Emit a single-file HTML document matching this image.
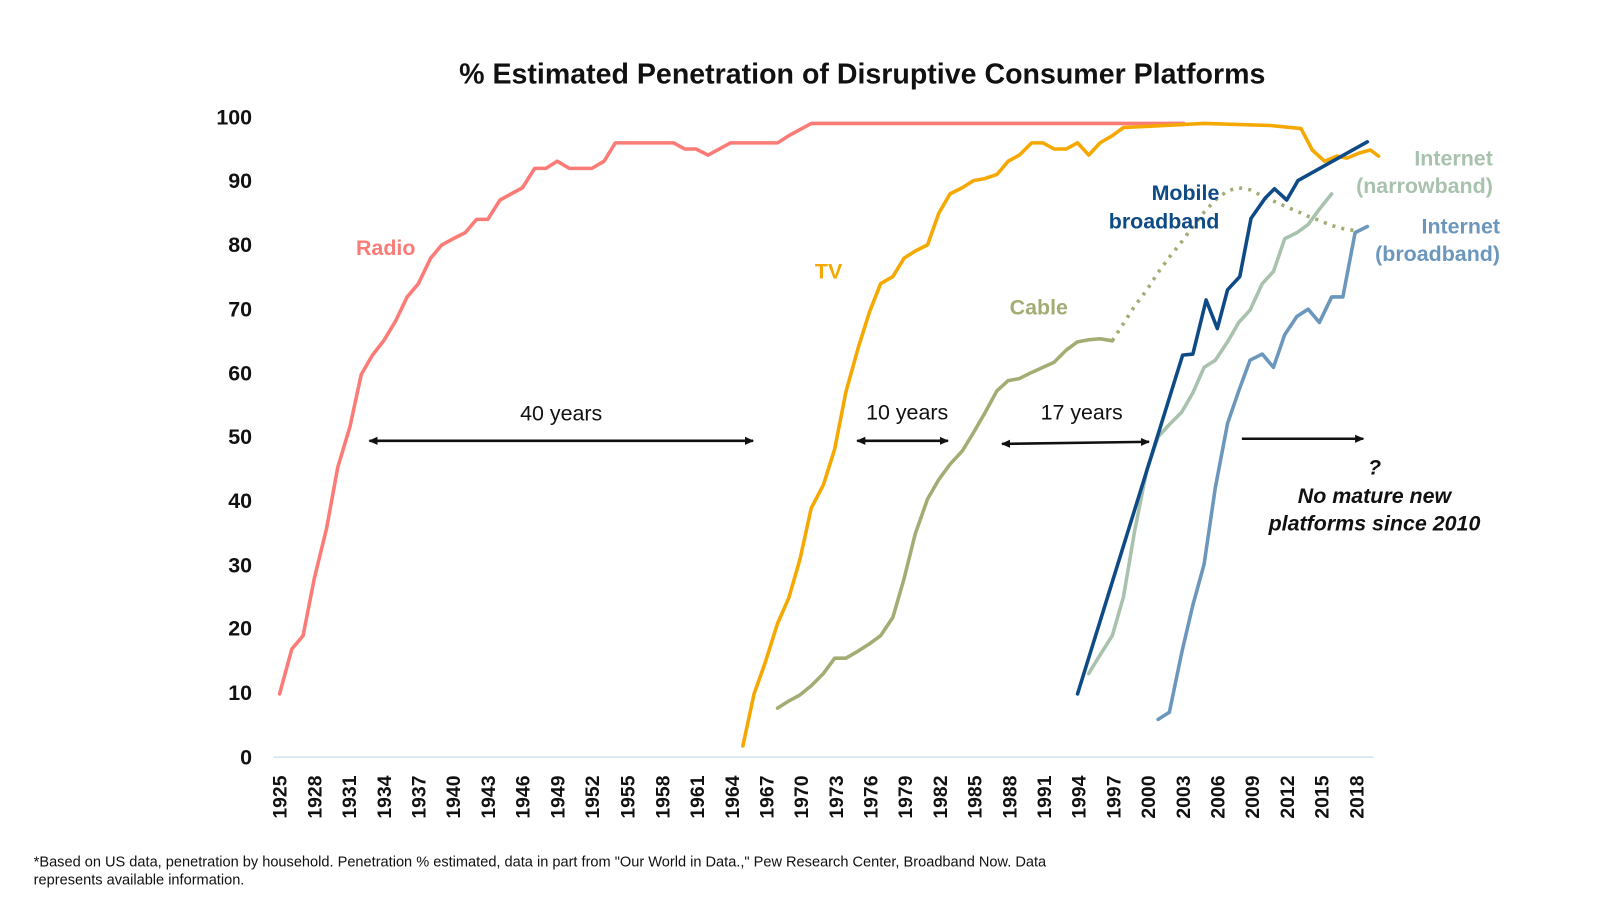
<!DOCTYPE html>
<html><head><meta charset="utf-8"><style>
html,body{margin:0;padding:0;background:#fff;}
svg{display:block;font-family:"Liberation Sans",sans-serif;}
</style></head><body>
<svg width="1600" height="900" viewBox="0 0 1568 882" xmlns="http://www.w3.org/2000/svg">
<defs>
<marker id="ah" markerWidth="10" markerHeight="10" refX="8" refY="5" orient="auto-start-reverse" markerUnits="userSpaceOnUse"><path d="M0,1 L9,5 L0,9 Z" fill="#111"/></marker>
</defs>
<text x="845" y="82" text-anchor="middle" font-size="28" font-weight="bold" fill="#111">% Estimated Penetration of Disruptive Consumer Platforms</text>
<g font-size="21" font-weight="bold" fill="#111" text-anchor="end">
<text x="247" y="749">0</text><text x="247" y="686">10</text><text x="247" y="623">20</text><text x="247" y="561">30</text><text x="247" y="498">40</text><text x="247" y="435">50</text><text x="247" y="373">60</text><text x="247" y="310">70</text><text x="247" y="247">80</text><text x="247" y="184">90</text><text x="247" y="122">100</text>
</g>
<line x1="268" y1="742" x2="1346" y2="742" stroke="#cfe3f0" stroke-width="1.5"/>
<g font-size="19" font-weight="bold" fill="#111" text-anchor="end">
<text transform="translate(281,760) rotate(-90)">1925</text>
<text transform="translate(315,760) rotate(-90)">1928</text>
<text transform="translate(349,760) rotate(-90)">1931</text>
<text transform="translate(383,760) rotate(-90)">1934</text>
<text transform="translate(417,760) rotate(-90)">1937</text>
<text transform="translate(451,760) rotate(-90)">1940</text>
<text transform="translate(485,760) rotate(-90)">1943</text>
<text transform="translate(519,760) rotate(-90)">1946</text>
<text transform="translate(553,760) rotate(-90)">1949</text>
<text transform="translate(587,760) rotate(-90)">1952</text>
<text transform="translate(622,760) rotate(-90)">1955</text>
<text transform="translate(656,760) rotate(-90)">1958</text>
<text transform="translate(690,760) rotate(-90)">1961</text>
<text transform="translate(724,760) rotate(-90)">1964</text>
<text transform="translate(758,760) rotate(-90)">1967</text>
<text transform="translate(792,760) rotate(-90)">1970</text>
<text transform="translate(826,760) rotate(-90)">1973</text>
<text transform="translate(860,760) rotate(-90)">1976</text>
<text transform="translate(894,760) rotate(-90)">1979</text>
<text transform="translate(928,760) rotate(-90)">1982</text>
<text transform="translate(962,760) rotate(-90)">1985</text>
<text transform="translate(996,760) rotate(-90)">1988</text>
<text transform="translate(1030,760) rotate(-90)">1991</text>
<text transform="translate(1064,760) rotate(-90)">1994</text>
<text transform="translate(1098,760) rotate(-90)">1997</text>
<text transform="translate(1132,760) rotate(-90)">2000</text>
<text transform="translate(1166,760) rotate(-90)">2003</text>
<text transform="translate(1200,760) rotate(-90)">2006</text>
<text transform="translate(1234,760) rotate(-90)">2009</text>
<text transform="translate(1268,760) rotate(-90)">2012</text>
<text transform="translate(1302,760) rotate(-90)">2015</text>
<text transform="translate(1336,760) rotate(-90)">2018</text>
</g>
<g fill="none" stroke-width="3.5" stroke-linejoin="round" stroke-linecap="round">
<polyline stroke="#fb7b77" points="274,680 286,636 297,623 308,567 320,518 331,458 343,418 354,367 365,348 376,334 388,314 399,291 410,278 422,253 433,240 444,234 456,228 467,215 478,215 490,196 501,190 512,184 524,165 535,165 546,158 558,165 569,165 580,165 592,158 603,140 614,140 626,140 637,140 648,140 660,140 671,146 682,146 694,152 705,146 716,140 728,140 739,140 750,140 762,140 773,133 784,127 795,121 1160,121"/>
<polyline stroke="#f5a800" points="728,731 739,680 750,649 762,611 773,586 784,548 795,498 807,475 818,440 829,384 841,341 852,306 863,278 875,271 886,253 897,246 909,240 920,209 931,190 943,184 954,177 965,175 977,171 988,158 999,152 1011,140 1022,140 1033,146 1045,146 1056,140 1067,152 1078,140 1090,133 1101,125 1180,121 1245,123 1275,126 1286,147 1298,158 1310,153 1320,155 1332,150 1343,147 1351,153"/>
<polyline stroke="#a3ad73" points="762,694 773,687 784,681 795,672 807,660 818,645 829,645 841,638 852,631 863,623 875,605 886,567 897,523 909,489 920,470 931,455 943,442 954,424 965,405 977,383 988,373 999,371 1011,365 1022,360 1033,355 1045,343 1056,335 1067,333 1078,332 1090,334"/>
<polyline stroke="#a3ad73" stroke-dasharray="3 6" stroke-linecap="butt" points="1090,334 1101,317 1112,300 1124,284 1135,267 1146,252 1158,237 1169,222 1180,208 1191,196 1203,187 1214,184 1225,186 1237,192 1248,197 1259,202 1271,207 1282,212 1293,216 1305,221 1316,224 1328,226"/>
<polyline stroke="#a8c2ad" points="1067,660 1078,642 1090,623 1101,585 1112,520 1124,460 1135,428 1146,416 1158,404 1169,385 1180,360 1191,353 1203,335 1214,316 1225,304 1237,278 1248,266 1259,234 1271,228 1282,220 1293,205 1305,190"/>
<polyline stroke="#6c97bd" points="1135,705 1146,698 1158,640 1169,593 1180,553 1191,478 1203,415 1214,383 1225,353 1237,347 1248,360 1259,328 1271,310 1282,303 1293,316 1305,291 1316,291 1328,228 1340,222"/>
<polyline stroke="#0e4b86" points="1056,680 1159,348 1169,347 1182,294 1193,322 1203,284 1215,271 1226,214 1240,194 1249,185 1261,196 1272,177 1340,139"/>
</g>
<g font-size="21" font-weight="bold">
<text x="378" y="250" text-anchor="middle" fill="#fb7b77">Radio</text>
<text x="812" y="273" text-anchor="middle" fill="#f5a800">TV</text>
<text x="1018" y="308" text-anchor="middle" fill="#a3ad73">Cable</text>
<text x="1195" y="196" text-anchor="end" fill="#0e4b86">Mobile</text>
<text x="1195" y="224" text-anchor="end" fill="#0e4b86">broadband</text>
<text x="1463" y="162" text-anchor="end" fill="#a8c2ad">Internet</text>
<text x="1463" y="189" text-anchor="end" fill="#a8c2ad">(narrowband)</text>
<text x="1470" y="229" text-anchor="end" fill="#6c97bd">Internet</text>
<text x="1470" y="256" text-anchor="end" fill="#6c97bd">(broadband)</text>
</g>
<g stroke="#111" stroke-width="2.5" fill="none">
<line x1="362" y1="432" x2="738" y2="432" marker-start="url(#ah)" marker-end="url(#ah)"/>
<line x1="840" y1="432" x2="929" y2="432" marker-start="url(#ah)" marker-end="url(#ah)"/>
<line x1="982" y1="435" x2="1126" y2="433" marker-start="url(#ah)" marker-end="url(#ah)"/>
<line x1="1217" y1="430" x2="1336" y2="430" marker-end="url(#ah)"/>
</g>
<g font-size="21" fill="#111" text-anchor="middle">
<text x="550" y="412">40 years</text>
<text x="889" y="411">10 years</text>
<text x="1060" y="411">17 years</text>
</g>
<g font-size="21" font-weight="bold" font-style="italic" fill="#111" text-anchor="middle">
<text x="1347" y="465">?</text>
<text x="1347" y="493">No mature new</text>
<text x="1347" y="520">platforms since 2010</text>
</g>
<g font-size="14.3" fill="#111">
<text x="33" y="849">*Based on US data, penetration by household. Penetration % estimated, data in part from "Our World in Data.," Pew Research Center, Broadband Now. Data</text>
<text x="33" y="867">represents available information.</text>
</g>
</svg>
</body></html>
